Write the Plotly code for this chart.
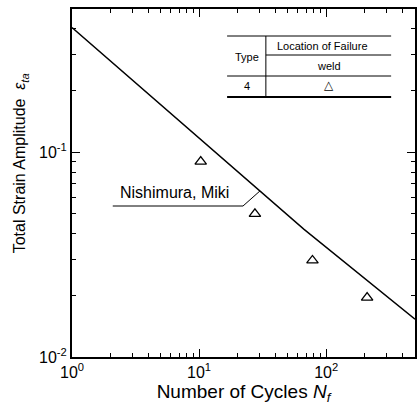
import plotly.graph_objects as go

# Test results: cycles to failure and total strain amplitude (type 4, weld failure)
cycles = [10.3, 27.5, 78, 210]
strain = [0.090, 0.050, 0.0296, 0.0195]

# Nishimura-Miki design curve, read at a few points along its length
curve_cycles = [1, 12.6, 67, 500]
curve_strain = [0.406, 0.1035, 0.042, 0.0153]

x_ticks = [1, 10, 100]
x_labels = ["10<sup>0</sup>", "10<sup>1</sup>", "10<sup>2</sup>"]
y_ticks = [0.01, 0.1]
y_labels = ["10<sup>-2</sup>", "10<sup>-1</sup>"]

x_minor = [m * 10 ** d for d in range(3) for m in range(2, 10) if m * 10 ** d <= 500]
y_minor = [m * 10 ** d for d in (-2, -1) for m in range(2, 10) if m * 10 ** d <= 0.5]

W, H = 419, 406
L, R, T, B = 72, 2, 9, 49
PW, PH = W - L - R, H - T - B


def px(x):
    return (x - L) / PW


def py(y):
    return (H - B - y) / PH


FONT = "Liberation Sans, Arial, sans-serif"
BLACK = "#000000"

fig = go.Figure()
fig.add_trace(go.Scatter(
    x=curve_cycles, y=curve_strain, mode="lines",
    line=dict(color=BLACK, width=1.4), showlegend=False,
))
fig.add_trace(go.Scatter(
    x=cycles, y=strain, mode="markers",
    marker=dict(symbol="triangle-up-open", size=10, color=BLACK,
                line=dict(color=BLACK, width=1.3)),
    showlegend=False,
))

axis_common = dict(
    type="log", showgrid=False, zeroline=False,
    showline=True, linecolor=BLACK, linewidth=2, mirror="ticks",
    ticks="inside", ticklen=8, tickwidth=1, tickcolor=BLACK,
    tickfont=dict(family=FONT, size=16, color=BLACK),
)

fig.update_xaxes(
    range=[0, 2.699], tickvals=x_ticks, ticktext=x_labels,
    minor=dict(tickvals=x_minor, ticks="inside", ticklen=4, tickcolor=BLACK, showgrid=False),
    title=dict(text="Number of Cycles <i>N<sub>f</sub></i>",
               font=dict(family=FONT, size=19, color=BLACK), standoff=2),
    **axis_common,
)
fig.update_yaxes(
    range=[-2, -0.301], tickvals=y_ticks, ticktext=y_labels,
    minor=dict(tickvals=y_minor, ticks="inside", ticklen=4, tickcolor=BLACK, showgrid=False),
    **axis_common,
)

shapes = []
line_w = dict(color=BLACK, width=1)
# table rules
shapes.append(dict(type="line", xref="paper", yref="paper", x0=px(228), x1=px(393), y0=py(36), y1=py(36), line=line_w))
shapes.append(dict(type="line", xref="paper", yref="paper", x0=px(267), x1=px(393), y0=py(55), y1=py(55), line=line_w))
shapes.append(dict(type="line", xref="paper", yref="paper", x0=px(228), x1=px(393), y0=py(76), y1=py(76), line=line_w))
shapes.append(dict(type="line", xref="paper", yref="paper", x0=px(228), x1=px(393), y0=py(97), y1=py(97), line=dict(color=BLACK, width=2)))
shapes.append(dict(type="line", xref="paper", yref="paper", x0=px(267), x1=px(267), y0=py(36), y1=py(97), line=line_w))
# leader from the curve label to the curve
shapes.append(dict(type="path", xref="paper", yref="paper",
                   path=f"M {px(113)} {py(206)} L {px(244)} {py(206)} L {px(261)} {py(191)}",
                   line=dict(color=BLACK, width=1)))

tfont = dict(family=FONT, size=11, color=BLACK)


def label(text, x, y, font=tfont, xanchor="center", **kw):
    return dict(text=text, x=px(x), y=py(y), xref="paper", yref="paper",
                xanchor=xanchor, yanchor="middle", showarrow=False, font=font, **kw)


annotations = [
    label("Type", 248, 57),
    label("Location of Failure", 324, 46),
    label("weld", 330, 66),
    label("4", 248, 86),
    label("△", 330, 85, font=dict(family="DejaVu Sans", size=12, color=BLACK)),
    label("Nishimura, Miki", 118, 192, font=dict(family=FONT, size=16, color=BLACK), xanchor="left"),
    label("Total Strain Amplitude  <i>ε<sub>ta</sub></i>", 20, 163,
          font=dict(family=FONT, size=16, color=BLACK), textangle=-90),
]

fig.update_layout(
    width=W, height=H, margin=dict(l=L, r=R, t=T, b=B),
    paper_bgcolor="white", plot_bgcolor="white",
    shapes=shapes, annotations=annotations,
)

fig.write_html("out.html")
